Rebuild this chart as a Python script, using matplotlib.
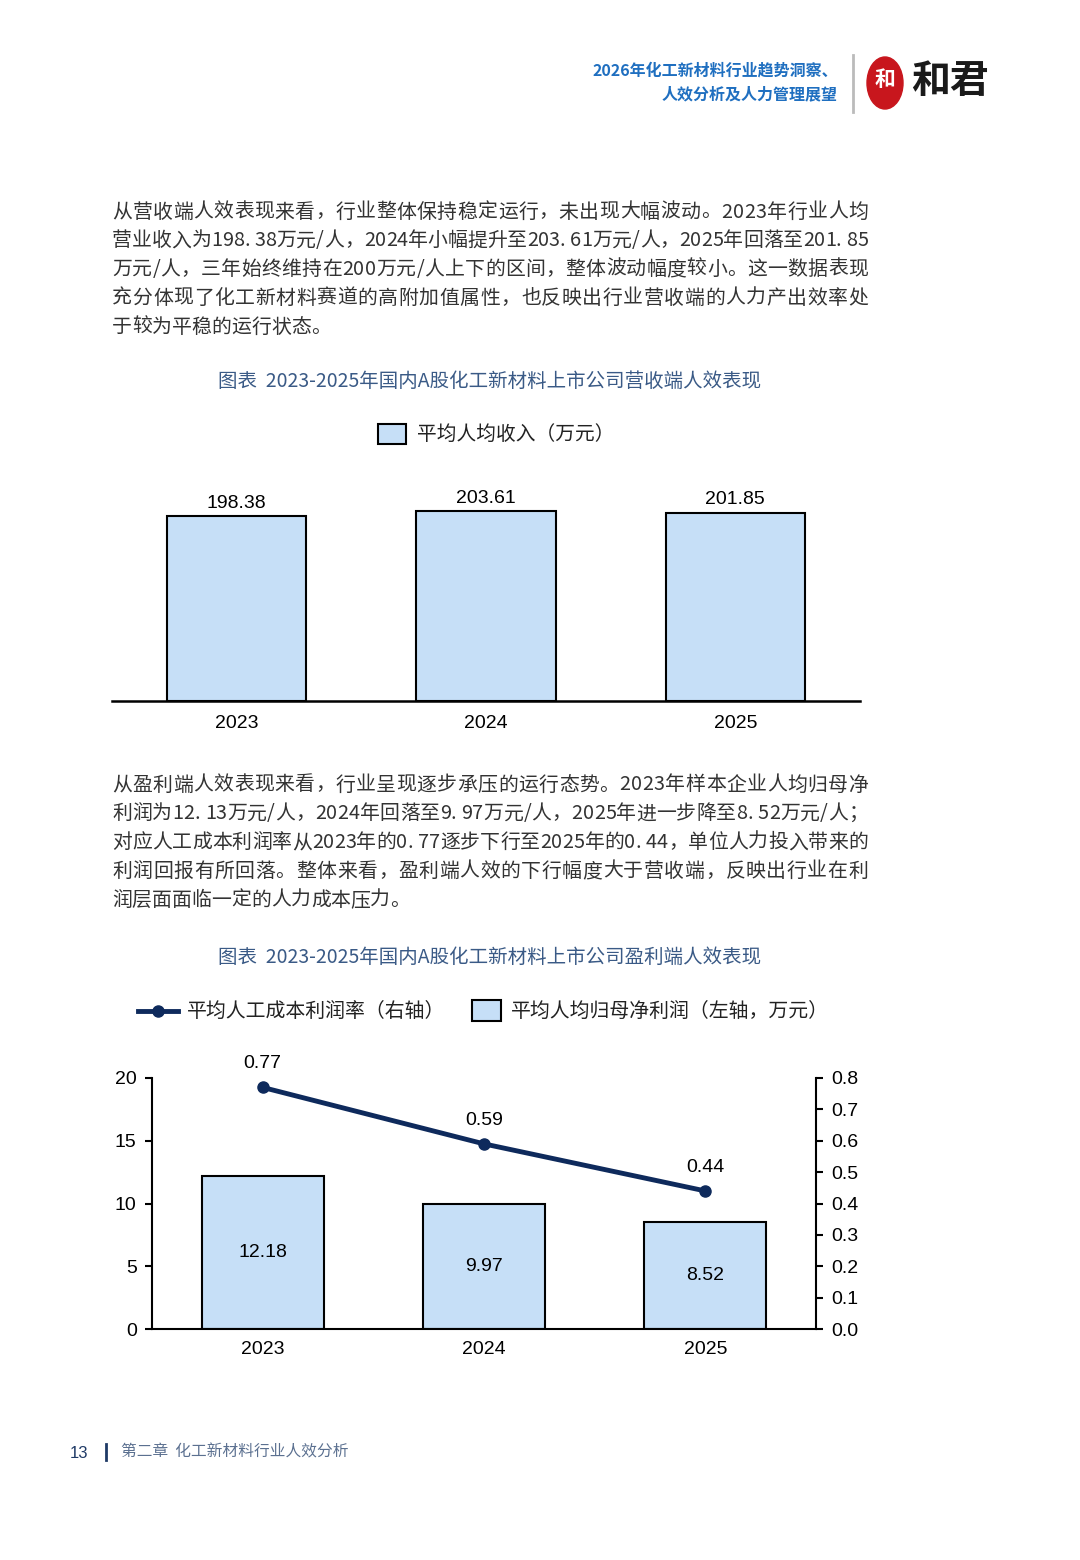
import matplotlib
matplotlib.use("Agg")
import matplotlib.pyplot as plt
from matplotlib.patches import Rectangle, Ellipse
from matplotlib.lines import Line2D

# ---------------- data ----------------
years = ["2023", "2024", "2025"]
revenue_per_capita = [198.38, 203.61, 201.85]
profit_per_capita = [12.18, 9.97, 8.52]
labor_cost_profit_rate = [0.77, 0.59, 0.44]
left_ticks = [0, 5, 10, 15, 20]
right_ticks = [0.0, 0.1, 0.2, 0.3, 0.4, 0.5, 0.6, 0.7, 0.8]

header_lines = ["2026年化工新材料行业趋势洞察、", "人效分析及人力管理展望"]
para1 = [
    "从营收端人效表现来看，行业整体保持稳定运行，未出现大幅波动。2023年行业人均",
    "营业收入为198. 38万元/人，2024年小幅提升至203. 61万元/人，2025年回落至201. 85",
    "万元/人，三年始终维持在200万元/人上下的区间，整体波动幅度较小。这一数据表现",
    "充分体现了化工新材料赛道的高附加值属性，也反映出行业营收端的人力产出效率处",
    "于较为平稳的运行状态。",
]
para2 = [
    "从盈利端人效表现来看，行业呈现逐步承压的运行态势。2023年样本企业人均归母净",
    "利润为12. 13万元/人，2024年回落至9. 97万元/人，2025年进一步降至8. 52万元/人；",
    "对应人工成本利润率从2023年的0. 77逐步下行至2025年的0. 44，单位人力投入带来的",
    "利润回报有所回落。整体来看，盈利端人效的下行幅度大于营收端，反映出行业在利",
    "润层面面临一定的人力成本压力。",
]
title1 = "图表  2023-2025年国内A股化工新材料上市公司营收端人效表现"
title2 = "图表  2023-2025年国内A股化工新材料上市公司盈利端人效表现"
legend1 = "平均人均收入（万元）"
legend2_line = "平均人工成本利润率（右轴）"
legend2_bar = "平均人均归母净利润（左轴，万元）"
footer_page = "13"
footer_text = "第二章  化工新材料行业人效分析"

# ---------------- style ----------------
W, H = 1080, 1560
CJK = ["Noto Sans CJK SC", "DejaVu Sans"]
NUM = ["Liberation Sans", "DejaVu Sans"]
BAR_FILL = "#c6dff7"
LINE_C = "#0e2a5c"
TITLE_C = "#3a5a86"
BODY_C = "#333333"

fig = plt.figure(figsize=(W / 100, H / 100), dpi=100)
fig.patch.set_facecolor("white")
renderer = fig.canvas.get_renderer()


def fx(x):
    return x / W


def fy(y):
    return 1 - y / H


def ftext(x, y, s, **kw):
    kw.setdefault("family", CJK)
    return fig.text(fx(x), fy(y), s, **kw)


def measure(s, **kw):
    t = fig.text(0, 0, s, **kw)
    w = t.get_window_extent(renderer).width
    t.remove()
    return w


def justified_line(x0, x1, y, line, justify, **kw):
    kw.setdefault("family", CJK)
    base = measure("|", **kw)
    pos = [0.0]
    for k in range(1, len(line) + 1):
        pos.append(measure(line[:k] + "|", **kw) - base)
    natural = pos[-1]
    n = len(line)
    extra = (x1 - x0 - natural) / (n - 1) if (justify and n > 1) else 0.0
    for k, ch in enumerate(line):
        if ch == " ":
            continue
        ftext(x0 + pos[k] + k * extra, y, ch, ha="left", va="center", **kw)


# ---------------- header ----------------
ftext(838, 71, header_lines[0], ha="right", va="center", fontsize=11.5,
      color="#1f6fc0", fontweight="bold")
ftext(838, 94, header_lines[1], ha="right", va="center", fontsize=11.5,
      color="#1f6fc0", fontweight="bold")
fig.add_artist(Line2D([fx(853), fx(853)], [fy(55), fy(112)], color="#bbbbbb",
                      lw=2, transform=fig.transFigure))
fig.add_artist(Ellipse((fx(885), fy(83)), 36 / W, 52 / H, color="#c8161d",
                       transform=fig.transFigure))
ftext(885, 80, "和", ha="center", va="center", fontsize=15, color="white",
      fontweight="bold")
ftext(911, 82, "和君", ha="left", va="center", fontsize=28, color="#1a1a1a",
      fontweight="bold")

# ---------------- paragraphs ----------------
for i, line in enumerate(para1):
    justified_line(112, 868, 212 + i * 28.8, line, i < len(para1) - 1,
                   fontsize=14.3, color=BODY_C)
for i, line in enumerate(para2):
    justified_line(112, 868, 785 + i * 28.8, line, i < len(para2) - 1,
                   fontsize=14.3, color=BODY_C)

# ---------------- chart titles ----------------
ftext(490, 381, title1, ha="center", va="center", fontsize=14, color=TITLE_C)
ftext(490, 957, title2, ha="center", va="center", fontsize=14, color=TITLE_C)

# ---------------- chart 1 ----------------
ax1 = fig.add_axes([fx(112), fy(701), 748 / W, 224 / H])
x = list(range(len(years)))
ax1.bar(x, revenue_per_capita, width=0.56, color=BAR_FILL,
        edgecolor="black", linewidth=1.5, zorder=2)
ax1.set_xlim(-0.5, 2.5)
ax1.set_ylim(0, 240)
for s in ["left", "right", "top"]:
    ax1.spines[s].set_visible(False)
ax1.spines["bottom"].set_linewidth(1.8)
ax1.set_yticks([])
ax1.set_xticks(x)
ax1.set_xticklabels(years, family=NUM, fontsize=14)
ax1.tick_params(axis="x", length=0, pad=10)
for xi, v in zip(x, revenue_per_capita):
    ax1.annotate(f"{v:.2f}", (xi, v), xytext=(0, 3), textcoords="offset points",
                 ha="center", va="bottom", family=NUM, fontsize=14)

# legend 1
fig.add_artist(Rectangle((fx(378), fy(444)), 28 / W, 20 / H, facecolor=BAR_FILL,
                         edgecolor="black", lw=1.5, transform=fig.transFigure))
ftext(417, 434, legend1, ha="left", va="center", fontsize=14.2, color="#222222")

# ---------------- chart 2 ----------------
ax2 = fig.add_axes([fx(152), fy(1329), 664 / W, 251 / H])
ax2.bar(x, profit_per_capita, width=0.55, color=BAR_FILL, edgecolor="black",
        linewidth=1.5, zorder=2)
ax2.set_xlim(-0.5, 2.5)
ax2.set_ylim(0, 20)
ax2.set_yticks(left_ticks)
ax2.set_yticklabels([str(t) for t in left_ticks], family=NUM, fontsize=14)
ax2.set_xticks(x)
ax2.set_xticklabels(years, family=NUM, fontsize=14)
ax2.tick_params(axis="x", length=0, pad=9)
ax2.tick_params(axis="y", length=5, width=1.5, pad=6, direction="out")
ax2.spines["top"].set_visible(False)
ax2.spines["right"].set_visible(False)
for s in ["left", "bottom"]:
    ax2.spines[s].set_linewidth(1.5)
for xi, v in zip(x, profit_per_capita):
    ax2.text(xi, v / 2, f"{v:.2f}", ha="center", va="center", family=NUM,
             fontsize=14)

ax3 = ax2.twinx()
ax3.set_ylim(0, 0.8)
ax3.plot(x, labor_cost_profit_rate, color=LINE_C, lw=3.5, marker="o",
         markersize=8, zorder=5)
ax3.set_yticks(right_ticks)
ax3.set_yticklabels([f"{t:.1f}" for t in right_ticks], family=NUM, fontsize=14)
ax3.tick_params(axis="y", length=5, width=1.5, pad=6, direction="out")
for s in ["top", "left", "bottom"]:
    ax3.spines[s].set_visible(False)
ax3.spines["right"].set_linewidth(1.5)
for xi, v in zip(x, labor_cost_profit_rate):
    ax3.annotate(f"{v:.2f}", (xi, v), xytext=(0, 11), textcoords="offset points",
                 ha="center", va="bottom", family=NUM, fontsize=14)

# legend 2
fig.add_artist(Line2D([fx(138), fx(178)], [fy(1011), fy(1011)], color=LINE_C,
                      lw=3.5, transform=fig.transFigure))
fig.add_artist(Line2D([fx(158)], [fy(1011)], color=LINE_C, marker="o",
                      markersize=8, transform=fig.transFigure))
ftext(187, 1011, legend2_line, ha="left", va="center", fontsize=14.3,
      color="#222222")
fig.add_artist(Rectangle((fx(472), fy(1021)), 29 / W, 21 / H, facecolor=BAR_FILL,
                         edgecolor="black", lw=1.5, transform=fig.transFigure))
ftext(511, 1011, legend2_bar, ha="left", va="center", fontsize=14.3,
      color="#222222")

# ---------------- footer ----------------
ftext(70, 1453, footer_page, ha="left", va="center", fontsize=12,
      color="#1f3a66", family=NUM)
fig.add_artist(Line2D([fx(106), fx(106)], [fy(1444), fy(1460)], color="#1f3a66",
                      lw=2, transform=fig.transFigure))
ftext(121, 1452, footer_text, ha="left", va="center", fontsize=11.3,
      color="#5b7090")

fig.savefig("out.png", dpi=100, facecolor="white")
